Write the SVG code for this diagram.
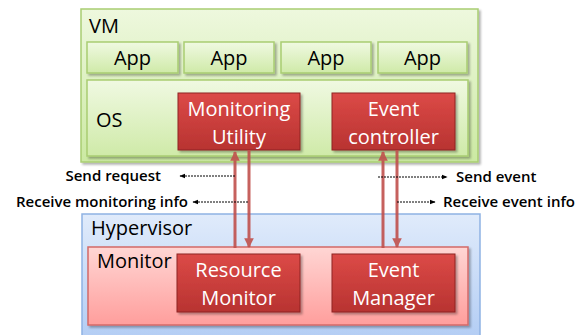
<svg xmlns="http://www.w3.org/2000/svg" width="584" height="335" viewBox="0 0 584 335">
  <defs>
    <linearGradient id="gGreen" x1="0" y1="0" x2="0" y2="1">
      <stop offset="0" stop-color="#eef8de"/>
      <stop offset="1" stop-color="#cbe9a2"/>
    </linearGradient>
    <linearGradient id="gApp" x1="0" y1="0" x2="0" y2="1">
      <stop offset="0" stop-color="#f0f9e2"/>
      <stop offset="1" stop-color="#cfeaa8"/>
    </linearGradient>
    <linearGradient id="gRed" x1="0" y1="0" x2="0" y2="1">
      <stop offset="0" stop-color="#dc4a47"/>
      <stop offset="1" stop-color="#b83331"/>
    </linearGradient>
    <linearGradient id="gBlue" x1="0" y1="0" x2="0" y2="1">
      <stop offset="0" stop-color="#e0ebfb"/>
      <stop offset="1" stop-color="#b3cdf4"/>
    </linearGradient>
    <linearGradient id="gPink" x1="0" y1="0" x2="0" y2="1">
      <stop offset="0" stop-color="#ffd6d4"/>
      <stop offset="1" stop-color="#ff9e9c"/>
    </linearGradient>
    <filter id="shadow" x="-10%" y="-10%" width="120%" height="130%">
      <feDropShadow dx="2" dy="2" stdDeviation="1" flood-color="#000" flood-opacity="0.3"/>
    </filter>
    <marker id="redHead" viewBox="0 0 10 10" refX="9" refY="5" markerWidth="3.2" markerHeight="3.2" orient="auto">
      <path d="M0,0 L10,5 L0,10 Z" fill="#c0504d"/>
    </marker>
    <marker id="blackHead" viewBox="0 0 10 10" refX="9" refY="5" markerWidth="6" markerHeight="6" markerUnits="userSpaceOnUse" orient="auto">
      <path d="M0,1 L10,5 L0,9 Z" fill="#000"/>
    </marker>
  </defs>
  <style>
    .lbl { font-family: "Open Sans", "Liberation Sans", sans-serif; font-size: 20px; fill: #000; }
    .wlbl { font-family: "Open Sans", "Liberation Sans", sans-serif; font-size: 20px; fill: #fff; text-anchor: middle; }
    .small { font-family: "Open Sans", "Liberation Sans", sans-serif; font-size: 15px; font-weight: 600; fill: #000; }
    .green { fill: url(#gGreen); stroke: #a9cd72; stroke-width: 1.5; }
    .app { fill: url(#gApp); stroke: #a9cd72; stroke-width: 1.5; }
    .red { fill: url(#gRed); stroke: #8e2422; stroke-width: 1; }
    .redline { stroke: #c0504d; stroke-width: 3; fill: none; opacity: 0.9; }
    .dash { stroke: #000; stroke-width: 1; stroke-dasharray: 2 1; fill: none; }
  </style>

  <!-- Virtual machine -->
  <g id="vm">
    <rect class="green" x="81" y="9" width="397" height="153" filter="url(#shadow)"/>
    <text class="lbl" x="89" y="33">VM</text>
  </g>
  <g id="app1">
    <rect class="app" x="87" y="42" width="91" height="31" filter="url(#shadow)"/>
    <text class="lbl" x="132.5" y="65" text-anchor="middle">App</text>
  </g>
  <g id="app2">
    <rect class="app" x="184" y="42" width="90" height="31" filter="url(#shadow)"/>
    <text class="lbl" x="229" y="65" text-anchor="middle">App</text>
  </g>
  <g id="app3">
    <rect class="app" x="281" y="42" width="90" height="31" filter="url(#shadow)"/>
    <text class="lbl" x="326" y="65" text-anchor="middle">App</text>
  </g>
  <g id="app4">
    <rect class="app" x="378" y="42" width="89" height="31" filter="url(#shadow)"/>
    <text class="lbl" x="422.5" y="65" text-anchor="middle">App</text>
  </g>
  <g id="os">
    <rect class="app" x="87" y="80" width="381" height="76" filter="url(#shadow)"/>
    <text class="lbl" x="96" y="127" font-size="17">OS</text>
  </g>
  <g id="monitoring-utility">
    <rect class="red" x="178" y="93" width="122" height="57" filter="url(#shadow)"/>
    <text class="wlbl" x="239" y="116.3">Monitoring</text>
    <text class="wlbl" x="239" y="143.7">Utility</text>
  </g>
  <g id="event-controller">
    <rect class="red" x="332" y="93" width="123" height="57" filter="url(#shadow)"/>
    <text class="wlbl" x="393.5" y="116.3">Event</text>
    <text class="wlbl" x="393.5" y="143.7">controller</text>
  </g>

  <!-- Hypervisor -->
  <g id="hypervisor">
    <rect x="82" y="214" width="398" height="124" fill="url(#gBlue)" stroke="#8fb2e3" stroke-width="1.5"/>
    <text class="lbl" x="91" y="235">Hypervisor</text>
  </g>
  <g id="monitor">
    <rect x="88" y="247" width="380" height="78" fill="url(#gPink)" stroke="#d46a68" stroke-width="1.5" filter="url(#shadow)"/>
    <text class="lbl" x="97" y="268">Monitor</text>
  </g>
  <g id="resource-monitor">
    <rect class="red" x="177" y="254" width="123" height="58" filter="url(#shadow)"/>
    <text class="wlbl" x="238.5" y="277.3">Resource</text>
    <text class="wlbl" x="238.5" y="304.7">Monitor</text>
  </g>
  <g id="event-manager">
    <rect class="red" x="332" y="254" width="123" height="58" filter="url(#shadow)"/>
    <text class="wlbl" x="393.5" y="277.3">Event</text>
    <text class="wlbl" x="393.5" y="304.7">Manager</text>
  </g>

  <!-- Connectors -->
  <g id="connectors">
    <line class="redline" x1="235" y1="248" x2="235" y2="152" marker-end="url(#redHead)"/>
    <line class="redline" x1="249" y1="150" x2="249" y2="247" marker-end="url(#redHead)"/>
    <line class="redline" x1="383" y1="248" x2="383" y2="152" marker-end="url(#redHead)"/>
    <line class="redline" x1="397" y1="150" x2="397" y2="247" marker-end="url(#redHead)"/>

    <line class="dash" x1="235" y1="176" x2="180" y2="176" marker-end="url(#blackHead)"/>
    <line class="dash" x1="248" y1="202" x2="193" y2="202" marker-end="url(#blackHead)"/>
    <line class="dash" x1="378" y1="177" x2="447" y2="177" marker-end="url(#blackHead)"/>
    <line class="dash" x1="397" y1="202" x2="435" y2="202" marker-end="url(#blackHead)"/>

    <text class="small" x="161" y="181" text-anchor="end">Send request</text>
    <text class="small" x="188" y="207" text-anchor="end">Receive monitoring info</text>
    <text class="small" x="456" y="182">Send event</text>
    <text class="small" x="443" y="207">Receive event info</text>
  </g>
</svg>
